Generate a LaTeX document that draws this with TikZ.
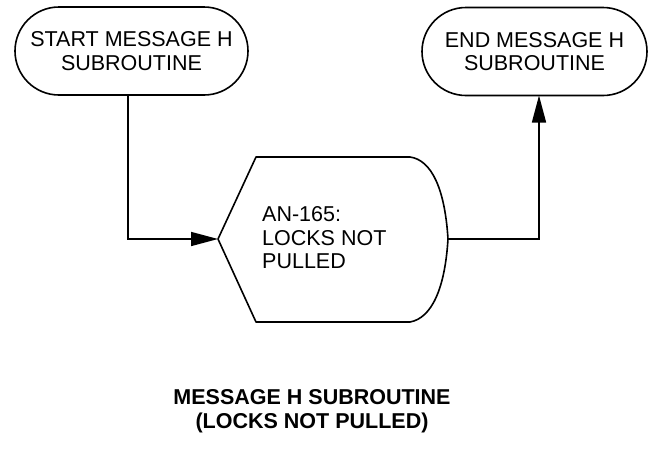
\documentclass[tikz,border=0pt]{standalone}
\usepackage{fontspec}
\setmainfont{Liberation Sans}
\usetikzlibrary{shapes.misc,arrows.meta}
\tikzset{
  term/.style={draw,line width=1.6pt,rounded rectangle,inner sep=0pt,
    font=\fontsize{21.5}{23.5}\selectfont,align=center},
  conn/.style={line width=1.6pt},
  arr/.style={conn,-{Triangle[length=27pt,width=14pt]}},
  body/.style={font=\fontsize{21.5}{23.5}\selectfont,align=left,inner sep=0pt,anchor=west},
  title/.style={font=\fontsize{21.5}{24}\selectfont\bfseries,align=center,inner sep=0pt}
}
\begin{document}
\begin{tikzpicture}[x=1pt,y=-1pt]
\useasboundingbox (0,0) rectangle (648,448);
\node[term,minimum width=233pt,minimum height=88pt] (start) at (131.5,51) {START MESSAGE H\\SUBROUTINE};
\node[term,minimum width=225pt,minimum height=88pt] (end) at (534.5,51.5) {END MESSAGE H\\SUBROUTINE};
\coordinate (dl) at (218,239);
\coordinate (dr) at (448,239);
\draw[line width=1.6pt,line join=round] (dl) -- (256,157) -- (410,157)
  .. controls (432,160) and (445,190) .. (dr)
  .. controls (445,288) and (432,318) .. (410,322) -- (256,322) -- cycle;
\node[body] (disp) at (262,238) {AN-165:\\LOCKS NOT\\PULLED};
\coordinate (bend1) at (128,239);
\coordinate (bend2) at (539,239);
\draw[arr] (128,95) -- (bend1) -- (dl);
\draw[arr] (dr) -- (bend2) -- (539,95.5);
\node[title] (ttl) at (312,411) {MESSAGE H SUBROUTINE\\(LOCKS NOT PULLED)};
\end{tikzpicture}
\end{document}
